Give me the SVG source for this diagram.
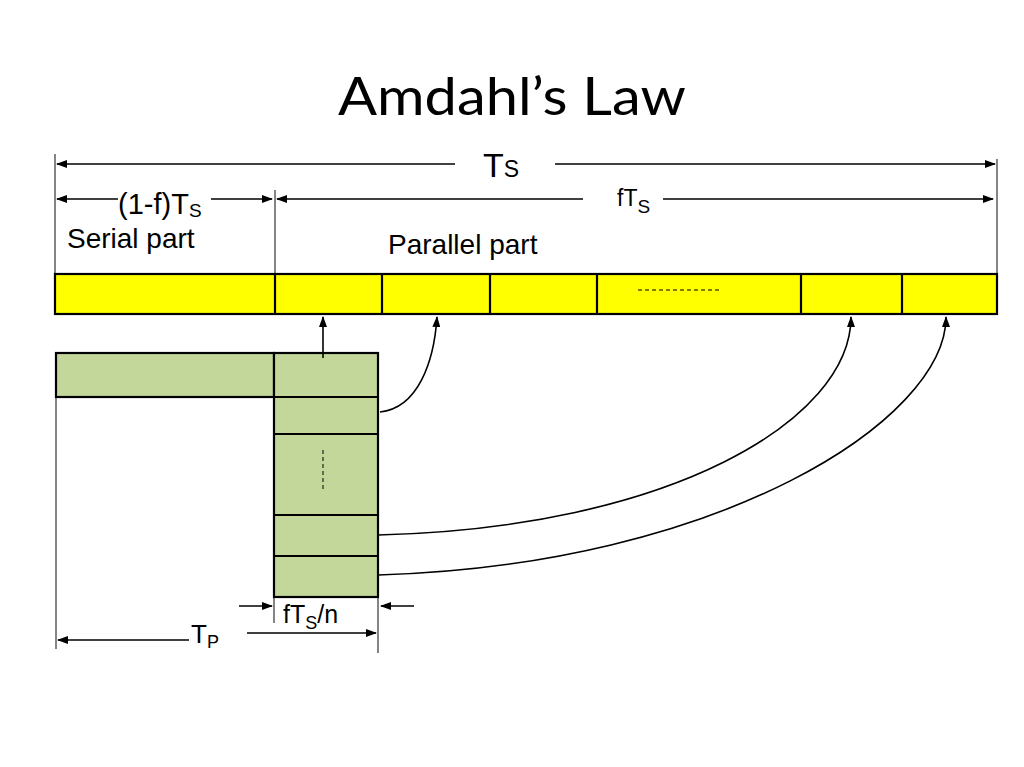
<svg xmlns="http://www.w3.org/2000/svg" width="1024" height="767" viewBox="0 0 1024 767">
<defs>
<marker id="ah" markerUnits="userSpaceOnUse" markerWidth="11" markerHeight="8" refX="10" refY="4" orient="auto">
<path d="M0,0 L11,4 L0,8 Z" fill="#000"/>
</marker>
</defs>
<style>
.t{font-family:"Liberation Sans",Arial,sans-serif;fill:#000}
.title{font-family:Lato,"Liberation Sans",sans-serif;font-size:52px;fill:#000}
.dim{stroke:#000;stroke-width:1.6;fill:none}
.ref{stroke:#333;stroke-width:1.2;fill:none}
.yel{fill:#ffff00;stroke:#000;stroke-width:2.2}
.grn{fill:#c4d79b;stroke:#000;stroke-width:2.2}
.sep{stroke:#000;stroke-width:2.2}
.con{stroke:#000;stroke-width:1.6;fill:none}
</style>
<rect width="1024" height="767" fill="#fff"/>
<text class="title" x="512" y="115" text-anchor="middle" textLength="348" lengthAdjust="spacingAndGlyphs">Amdahl’s Law</text>

<g id="reference-lines">
<line class="ref" x1="55" y1="154" x2="55" y2="274"/>
<line class="ref" x1="997" y1="159" x2="997" y2="274"/>
<line class="ref" x1="275" y1="190" x2="275" y2="274"/>
<line class="ref" x1="56" y1="397" x2="56" y2="649"/>
<line class="ref" x1="274" y1="597" x2="274" y2="623"/>
<line class="ref" x1="378" y1="597" x2="378" y2="653"/>
</g>

<g id="dimension-ts">
<line class="dim" x1="455" y1="164" x2="57" y2="164" marker-end="url(#ah)"/>
<line class="dim" x1="555" y1="164" x2="995" y2="164" marker-end="url(#ah)"/>
<text class="t" x="483" y="177" font-size="34">T<tspan font-size="23">S</tspan></text>
</g>

<g id="dimension-serial">
<line class="dim" x1="118" y1="199" x2="57" y2="199" marker-end="url(#ah)"/>
<line class="dim" x1="211" y1="199" x2="272" y2="199" marker-end="url(#ah)"/>
<text class="t" x="118" y="214" font-size="29">(1-f)T<tspan font-size="19" dy="3">S</tspan></text>
<text class="t" x="67" y="248" font-size="28">Serial part</text>
</g>

<g id="dimension-parallel">
<line class="dim" x1="583" y1="199" x2="277" y2="199" marker-end="url(#ah)"/>
<line class="dim" x1="663" y1="199" x2="993" y2="199" marker-end="url(#ah)"/>
<text class="t" x="617" y="206" font-size="23">fT<tspan font-size="19" dy="7">S</tspan></text>
<text class="t" x="388" y="254" font-size="28">Parallel part</text>
</g>

<g id="serial-bar">
<rect class="yel" x="55" y="274" width="942" height="40"/>
<line class="sep" x1="275" y1="274" x2="275" y2="314"/>
<line class="sep" x1="382" y1="274" x2="382" y2="314"/>
<line class="sep" x1="490" y1="274" x2="490" y2="314"/>
<line class="sep" x1="597" y1="274" x2="597" y2="314"/>
<line class="sep" x1="801" y1="274" x2="801" y2="314"/>
<line class="sep" x1="902" y1="274" x2="902" y2="314"/>
<line x1="638" y1="290" x2="722" y2="290" stroke="#000" stroke-width="1" stroke-dasharray="4,3"/>
</g>

<g id="parallel-blocks">
<rect class="grn" x="56" y="353" width="218" height="44"/>
<rect class="grn" x="274" y="353" width="104" height="244"/>
<line class="sep" x1="56" y1="397" x2="378" y2="397"/>
<line class="sep" x1="274" y1="434" x2="378" y2="434"/>
<line class="sep" x1="274" y1="515" x2="378" y2="515"/>
<line class="sep" x1="274" y1="556" x2="378" y2="556"/>
<line x1="323" y1="450" x2="323" y2="490" stroke="#000" stroke-width="1" stroke-dasharray="4,3"/>
</g>

<g id="connectors">
<line class="con" x1="323" y1="358" x2="323" y2="317" marker-end="url(#ah)"/>
<path class="con" d="M380,412 C418,408 434,362 437,317" marker-end="url(#ah)"/>
<path class="con" d="M378,535 C670,528 851,420 851,317" marker-end="url(#ah)"/>
<path class="con" d="M378,575 C720,565 946,420 946,317" marker-end="url(#ah)"/>
</g>

<g id="dimension-n">
<line class="dim" x1="239" y1="606" x2="272" y2="606" marker-end="url(#ah)"/>
<line class="dim" x1="414" y1="606" x2="381" y2="606" marker-end="url(#ah)"/>
<text class="t" x="283" y="623" font-size="25">fT<tspan font-size="18" dy="6">S</tspan><tspan dy="-6">/n</tspan></text>
</g>

<g id="dimension-tp">
<line class="dim" x1="189" y1="640" x2="58" y2="640" marker-end="url(#ah)"/>
<line class="dim" x1="247" y1="633" x2="376" y2="633" marker-end="url(#ah)"/>
<text class="t" x="191" y="643" font-size="26">T<tspan font-size="18" dy="5">P</tspan></text>
</g>
</svg>
